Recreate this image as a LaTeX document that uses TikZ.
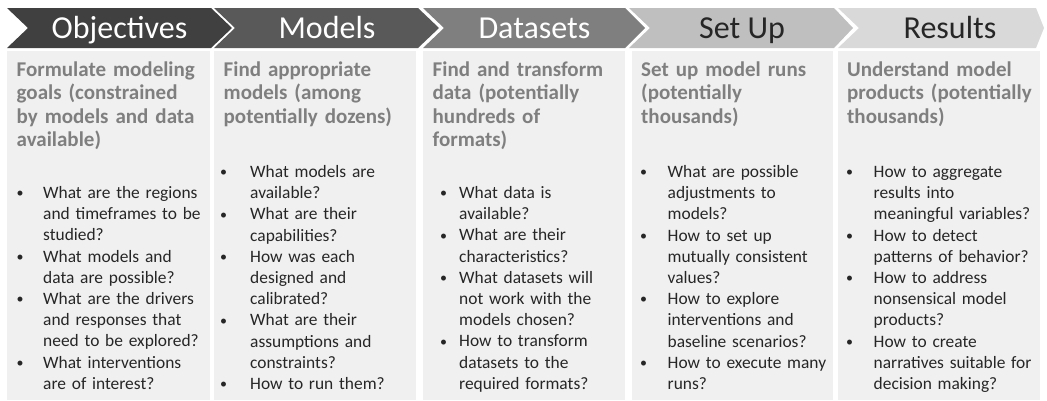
\documentclass[tikz,border=0pt]{standalone}
\usepackage{fontspec}
\setmainfont{Carlito}

\definecolor{chevA}{HTML}{404040}
\definecolor{chevB}{HTML}{595959}
\definecolor{chevC}{HTML}{7F7F7F}
\definecolor{chevD}{HTML}{BFBFBF}
\definecolor{chevE}{HTML}{D9D9D9}
\definecolor{panelbg}{HTML}{F0F0F0}
\definecolor{headtxt}{HTML}{7F7F7F}
\definecolor{bodytxt}{HTML}{262626}

\setlength{\parindent}{0pt}
\newcommand{\bulmark}[1]{\makebox[26.5pt][l]{\hspace{#1}\raisebox{0.8pt}{\fontsize{14}{14}\selectfont\textbullet}}\ignorespaces}
\newcommand{\fbul}[1][-1.2pt]{\hangindent=26.5pt\hangafter=1\noindent\bulmark{#1}}
\newcommand{\bul}[1][-1.2pt]{\par\fbul[#1]}

\begin{document}
\begin{tikzpicture}[x=1pt, y=-1pt,
  stage/.style={anchor=base, inner sep=0pt, font=\fontsize{32}{36}\selectfont},
  goal/.style={anchor=base west, text width=200pt, align=left, inner sep=0pt,
    text=headtxt, font=\bfseries\fontsize{21}{23.6}\selectfont},
  asks/.style={anchor=base west, text width=200pt, align=left, inner sep=0pt,
    text=bodytxt, font=\fontsize{17.4}{21.2}\selectfont}]

 \useasboundingbox (0,0) rectangle (1047,400);

 % chevrons
 \fill [chevA] (7,8) -- (211,8) -- (232,28) -- (211,48) -- (7,48) -- (28,28) -- cycle;
 \fill [chevB] (214,8) -- (418,8) -- (439,28) -- (418,48) -- (214,48) -- (235,28) -- cycle;
 \fill [chevC] (423,8) -- (625,8) -- (645,28) -- (625,48) -- (423,48) -- (444,28) -- cycle;
 \fill [chevD] (629,8) -- (834,8) -- (853,28) -- (834,48) -- (629,48) -- (650,28) -- cycle;
 \fill [chevE] (838,8) -- (1036,8) -- (1044,28) -- (1036,48) -- (838,48) -- (859,28) -- cycle;

 \node [stage, text=white] (obj) at (119.5,38.3) {Objectives};
 \node [stage, text=white] (mod) at (327,38.3) {Models};
 \node [stage, text=white] (dat) at (534.5,38.3) {Datasets};
 \node [stage, text=bodytxt] (setup) at (742,38.3) {Set Up};
 \node [stage, text=bodytxt] (res) at (950,38.3) {Results};

 % panels
 \fill [panelbg] (7,51) rectangle (210,400);
 \fill [panelbg] (214,51) rectangle (416,400);
 \fill [panelbg] (423,51) rectangle (625,400);
 \fill [panelbg] (632,51) rectangle (833,400);
 \fill [panelbg] (838,51) rectangle (1040,400);

 \node [goal] (objgoal) at (16.5,76) {Formulate modeling\\goals (constrained\\by models and data\\available)};
 \node [asks] (objasks) at (16.5,198.5) {%
  \fbul[0pt] What are the regions\newline and timeframes to be\newline studied?
  \bul[0pt] What models and\newline data are possible?
  \bul[0pt] What are the drivers\newline and responses that\newline need to be explored?
  \bul[0pt] What interventions\newline are of interest?\par};

 \node [goal] (modgoal) at (223.5,76) {Find appropriate\\models (among\\potentially dozens)};
 \node [asks] (modasks) at (223.5,177.5) {%
  \fbul[-3.5pt] What models are\newline available?
  \bul[-3.5pt] What are their\newline capabilities?
  \bul[-3.5pt] How was each\newline designed and\newline calibrated?
  \bul[-3.5pt] What are their\newline assumptions and\newline constraints?
  \bul[-3.5pt] How to run them?\par};

 \node [goal] (datgoal) at (432.5,76) {Find and transform\\data (potentially\\hundreds of\\formats)};
 \node [asks] (datasks) at (432.5,198.5) {%
  \fbul[7.3pt] What data is\newline available?
  \bul[7.3pt] What are their\newline characteristics?
  \bul[7.3pt] What datasets will\newline not work with the\newline models chosen?
  \bul[7.3pt] How to transform\newline datasets to the\newline required formats?\par};

 \node [goal] (setgoal) at (641,76) {Set up model runs\\(potentially\\thousands)};
 \node [asks] (setasks) at (641,177.5) {%
  \fbul What are possible\newline adjustments to\newline models?
  \bul How to set up\newline mutually consistent\newline values?
  \bul How to explore\newline interventions and\newline baseline scenarios?
  \bul How to execute many\newline runs?\par};

 \node [goal] (resgoal) at (847,76) {Understand model\\products (potentially\\thousands)};
 \node [asks] (resasks) at (847,177.5) {%
  \fbul How to aggregate\newline results into\newline meaningful variables?
  \bul How to detect\newline patterns of behavior?
  \bul How to address\newline nonsensical model\newline products?
  \bul How to create\newline narratives suitable for\newline decision making?\par};

\end{tikzpicture}
\end{document}
